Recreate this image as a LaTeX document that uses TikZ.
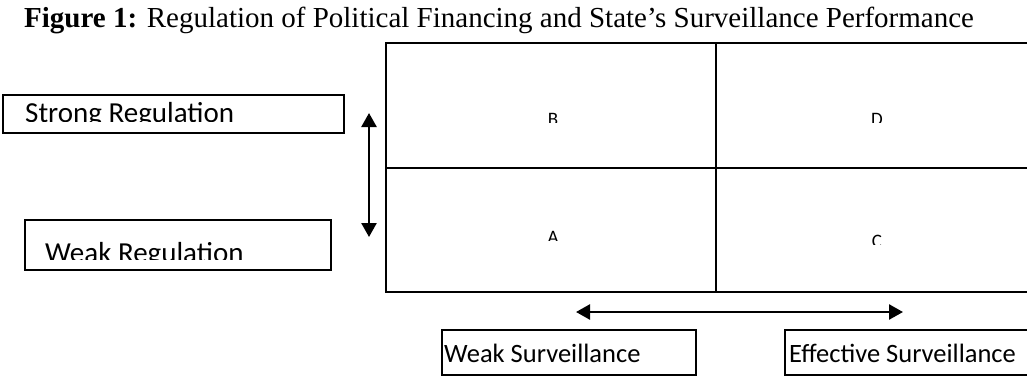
\documentclass[tikz,border=0pt]{standalone}
\usepackage{fontspec}
\setmainfont{Liberation Serif}
\newfontfamily\carl{Carlito}
\usetikzlibrary{arrows.meta}
\begin{document}
\begin{tikzpicture}[x=1pt,y=-1pt,
  box/.style={draw, line width=1.5pt},
  gridline/.style={draw, line width=1.6pt},
  lbl/.style={font=\carl\fontsize{26.5}{30}\selectfont, inner sep=0pt, anchor=base west},
  biglbl/.style={font=\carl\fontsize{29}{33}\selectfont, inner sep=0pt, anchor=base west},
  cell/.style={font=\carl\fontsize{19}{22}\selectfont, inner sep=0pt, anchor=base},
  dbl/.style={{Triangle[length=14pt,width=15pt]}-{Triangle[length=14pt,width=15pt]}, line width=2.5pt},
]
\useasboundingbox (0,0) rectangle (1027,376);
\clip (0,0) rectangle (1027,376);
\fill[white] (0,0) rectangle (1027,376);

% title
\node[anchor=base west, inner sep=0pt, font=\fontsize{29}{34}\selectfont] (title) at (24,27)
  {\textbf{Figure 1:} Regulation of Political Financing and State’s Surveillance Performance};

% grid
\draw[gridline] (386,43) rectangle (1040,292);
\draw[gridline] (716,43) -- (716,292);
\draw[gridline] (386,168) -- (1040,168);

% cell letters (clipped)
\begin{scope}
  \clip (386,43) rectangle (716,122);
  \node[cell] (B) at (553,125) {B};
\end{scope}
\begin{scope}
  \clip (716,43) rectangle (1040,122);
  \node[cell] (D) at (877,125) {D};
\end{scope}
\begin{scope}
  \clip (386,168) rectangle (716,240);
  \node[cell] (A) at (553,243) {A};
\end{scope}
\begin{scope}
  \clip (716,168) rectangle (1040,244);
  \node[cell] (C) at (877,247) {C};
\end{scope}

% left boxes
\draw[box] (3,95) rectangle (344,133);
\begin{scope}
  \clip (3,95) rectangle (344,121);
  \node[biglbl] (strong) at (25,122) {Strong Regulation};
\end{scope}
\draw[box] (25,220) rectangle (331,270);
\begin{scope}
  \clip (25,220) rectangle (331,259);
  \node[biglbl] (weak) at (45,262) {Weak Regulation};
\end{scope}

% vertical arrow
\coordinate (vt) at (369,113);
\coordinate (vb) at (369,237);
\draw[dbl] (vt) -- (vb);

% bottom boxes
\node[box, minimum width=254pt, minimum height=45pt, inner sep=0pt] (wsbox) at (569,352.5) {};
\node[lbl] (ws) at (444,362) {Weak Surveillance};
\node[box, minimum width=255pt, minimum height=45pt, inner sep=0pt] (esbox) at (912.5,352.5) {};
\node[lbl] (es) at (789,362) {Effective Surveillance};

% horizontal arrow
\coordinate (hl) at (576,312);
\coordinate (hr) at (903,312);
\draw[dbl] (hl) -- (hr);
\end{tikzpicture}
\end{document}
